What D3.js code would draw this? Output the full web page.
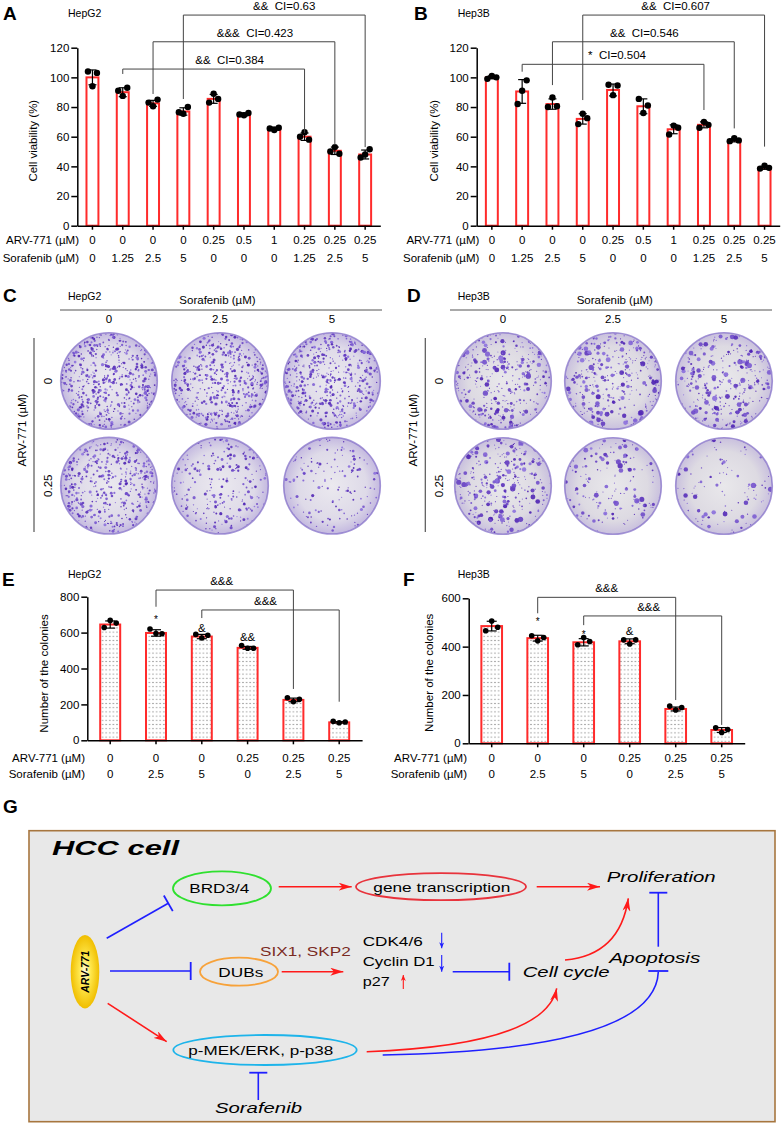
<!DOCTYPE html>
<html>
<head>
<meta charset="utf-8">
<script src="https://cdn.jsdelivr.net/npm/d3@7"></script>
<style>
  body { margin: 0; background: #fff; }
  svg { display: block; font-family: "Liberation Sans", Arial, sans-serif; }
  text { white-space: pre; }
</style>
</head>
<body>
<script>
"use strict";

// ---------- data ----------
const arvAB = ["0", "0", "0", "0", "0.25", "0.5", "1", "0.25", "0.25", "0.25"];
const sorAB = ["0", "1.25", "2.5", "5", "0", "0", "0", "1.25", "2.5", "5"];
const viabTicks = [0, 20, 40, 60, 80, 100, 120];

const viabHepG2 = [100, 90, 82.5, 77, 85.5, 75, 65.5, 60, 50.5, 48];
const viabHepG2Err = [5, 3, 2, 2.5, 3, 1, 1, 2.5, 2.5, 3];
const viabHepG2Dots = [[104, 94, 103], [91, 87.5, 93], [83, 80.5, 85], [76.5, 75.5, 80], [83, 89, 85.5],
  [75, 74.5, 76], [65.5, 64.5, 66], [60, 63, 58], [50, 53, 48.5], [46, 48, 51.5]];

const viabHep3B = [100, 90.5, 82, 72, 91.5, 80.5, 65, 68, 57.5, 39];
const viabHep3BErr = [1, 8, 3.5, 3.5, 4, 5, 3, 2, 1, 1];
const viabHep3BDots = [[99, 101, 100], [82, 91, 98], [80, 86.5, 80.5], [68.5, 75.5, 72.5], [95, 88, 94.5],
  [85.5, 76, 81], [61.5, 67.5, 66], [66, 70, 68], [57, 59, 57.5], [38.5, 40.5, 39]];

const ciHepG2 = [
  { from: 1, to: 7, y: 105.6, left: 102.3, right: 62.5, label: "&&  CI=0.384", dx: 16 },
  { from: 2, to: 8, y: 124, left: 88.8, right: 54.4, label: "&&&  CI=0.423", dx: 11 },
  { from: 3, to: 9, y: 142, left: 85.4, right: 53, label: "&&  CI=0.63", dx: 10 }
];
const ciHep3B = [
  { from: 1, to: 7, y: 108.8, left: 103.8, right: 78, label: "*  CI=0.504", dx: 4 },
  { from: 2, to: 8, y: 124, left: 94.8, right: 65.6, label: "&&  CI=0.546", dx: 1 },
  { from: 3, to: 9, y: 142, left: 84.7, right: 53.3, label: "&&  CI=0.607", dx: 2 }
];

const arvEF = ["0", "0", "0", "0.25", "0.25", "0.25"];
const sorEF = ["0", "2.5", "5", "0", "2.5", "5"];

const colHepG2 = [645, 598, 578, 515, 225, 100];
const colHepG2Err = [20, 18, 12, 8, 10, 4];
const colHepG2Dots = [[628, 668, 653], [620, 595, 594], [590, 570, 585], [528, 513, 513], [237, 215, 228], [106, 98, 102]];
const colHepG2Ticks = [0, 200, 400, 600, 800];

const colHep3B = [485, 435, 418, 422, 142, 55];
const colHep3BErr = [20, 12, 15, 10, 8, 10];
const colHep3BDots = [[466, 506, 480], [445, 424, 438], [408, 438, 421], [428, 411, 428], [154, 138, 148], [64, 45, 57]];
const colHep3BTicks = [0, 200, 400, 600];

const sigHepG2 = [{ i: 1, text: "*", y: 653 }, { i: 2, text: "&", y: 605 }, { i: 3, text: "&&", y: 555 }];
const sigHep3B = [{ i: 1, text: "*", y: 491 }, { i: 2, text: "*", y: 436 }, { i: 3, text: "&", y: 449 }];
const brHepG2 = [
  { from: 1, to: 4, y: 837, left: 744, right: 286, label: "&&&", dx: -3 },
  { from: 2, to: 5, y: 726, left: 681, right: 215, label: "&&&", dx: -5 }
];
const brHep3B = [
  { from: 1, to: 4, y: 604, left: 538, right: 179, label: "&&&", dx: 0 },
  { from: 2, to: 5, y: 527, left: 489, right: 76, label: "&&&", dx: -4 }
];

const plateCols = ["0", "2.5", "5"];
const plateRows = ["0", "0.25"];

// ---------- page ----------
const svg = d3.select("body").append("svg").attr("width", 782).attr("height", 1124);
const defs = svg.append("defs");

let dotPat = defs.append("pattern").attr("id", "dotFill").attr("patternUnits", "userSpaceOnUse")
  .attr("width", 3.6).attr("height", 4.2);
dotPat.append("rect").attr("width", 3.6).attr("height", 4.2).attr("fill", "#fff");
dotPat.append("circle").attr("cx", 1.8).attr("cy", 2.1).attr("r", 0.55).attr("fill", "#666");

function gradient(id, stops) {
  let gr = defs.append("radialGradient").attr("id", id);
  stops.forEach(s => gr.append("stop").attr("offset", s[0]).attr("stop-color", s[1]));
}
gradient("plateA", [["0%", "#ebe9ef"], ["72%", "#dedae8"], ["100%", "#c4b9e0"]]);
gradient("plateB", [["0%", "#e9e8eb"], ["72%", "#dddae2"], ["100%", "#c9c0de"]]);
gradient("arvGrad", [["0%", "#fffbe6"], ["40%", "#ffe84d"], ["100%", "#f0be00"]]);

function letter(t, x, y) {
  svg.append("text").attr("x", x).attr("y", y).attr("font-size", 19).attr("font-weight", "bold").text(t);
}
function plainText(t, x, y, size, anchor) {
  return svg.append("text").attr("x", x).attr("y", y).attr("font-size", size || 11.5)
    .attr("text-anchor", anchor || "start").text(t);
}
function vText(t, x, y, size) {
  return svg.append("text").attr("transform", `translate(${x},${y}) rotate(-90)`)
    .attr("text-anchor", "middle").attr("dy", "0.35em").attr("font-size", size || 11.5).text(t);
}

function barPanel(o) {
  let g = svg.append("g");
  let n = o.values.length;
  let x = d3.scaleBand().domain(d3.range(n)).range([o.x0, o.x1]).paddingInner(o.pad).paddingOuter(o.pad / 2);
  let y = d3.scaleLinear().domain([0, o.max]).range([o.y0, o.y1]);
  let cx = i => x(i) + x.bandwidth() / 2;

  g.selectAll("rect.bar").data(o.values).join("rect").attr("class", "bar")
    .attr("x", (d, i) => x(i) + 1).attr("width", x.bandwidth() - 2)
    .attr("y", d => y(d)).attr("height", d => y(0) - y(d))
    .attr("fill", o.fill).attr("stroke", "#ff2b2b").attr("stroke-width", 2);

  let eb = g.append("g").attr("stroke", "#000").attr("stroke-width", 1.2);
  o.values.forEach((v, i) => {
    let e = o.err[i];
    eb.append("line").attr("x1", cx(i)).attr("x2", cx(i)).attr("y1", y(v - e)).attr("y2", y(v + e));
    [v - e, v + e].forEach(t => eb.append("line")
      .attr("x1", cx(i) - o.cap).attr("x2", cx(i) + o.cap).attr("y1", y(t)).attr("y2", y(t)));
  });

  let pts = o.dots.flatMap((arr, i) => arr.map((v, k) => ({ i, v, k })));
  g.selectAll("circle.dot").data(pts).join("circle").attr("class", "dot")
    .attr("cx", d => cx(d.i) + o.jitter[d.k]).attr("cy", d => y(d.v)).attr("r", o.r).attr("fill", "#000");

  let ya = g.append("g").attr("transform", `translate(${o.x0},0)`)
    .call(d3.axisLeft(y).tickValues(o.ticks).tickSize(6).tickPadding(2).tickSizeOuter(0));
  let xa = g.append("g").attr("transform", `translate(0,${o.y0})`)
    .call(d3.axisBottom(x).tickSize(4).tickSizeOuter(0).tickFormat(""));
  [ya, xa].forEach(a => {
    a.attr("font-family", null).attr("font-size", 11.5);
    a.selectAll("path, line").attr("stroke-width", 1.5);
    a.selectAll("text").attr("fill", "#000");
  });

  // treatment rows under the axis
  [["ARV-771 (µM)", o.arv], ["Sorafenib (µM)", o.sor]].forEach((row, r) => {
    g.append("text").attr("x", o.rowX).attr("y", o.rowY[r]).attr("text-anchor", "end")
      .attr("font-size", 11.5).text(row[0]);
    g.selectAll("text.row" + r).data(row[1]).join("text").attr("class", "row" + r)
      .attr("x", (d, i) => cx(i)).attr("y", o.rowY[r]).attr("text-anchor", "middle")
      .attr("font-size", 11.5).text(d => d);
  });

  o.brackets.forEach(b => {
    let xl = cx(b.from), xr = cx(b.to), yb = y(b.y);
    g.append("path").attr("d", `M${xl},${y(b.left)}V${yb}H${xr}V${y(b.right)}`)
      .attr("fill", "none").attr("stroke", "#444").attr("stroke-width", 1);
    g.append("text").attr("x", (xl + xr) / 2 + b.dx).attr("y", yb - 5).attr("text-anchor", "middle")
      .attr("font-size", 11.5).text(b.label);
  });

  if (o.marks) {
    g.selectAll("text.mark").data(o.marks).join("text").attr("class", "mark")
      .attr("x", d => cx(d.i)).attr("y", d => y(d.y)).attr("text-anchor", "middle").attr("fill", "#000")
      .attr("font-size", d => d.text == "*" ? 10 : 11.5).text(d => d.text);
  }

  vText(o.yTitle, o.yTitleX, (o.y0 + o.y1) / 2 + o.yTitleDy, 11.5);
}

// ---------- A / B ----------
letter("A", 3, 20);
plainText("HepG2", 68, 16.7, 10.5);
barPanel({
  values: viabHepG2, err: viabHepG2Err, dots: viabHepG2Dots, ticks: viabTicks, max: 120,
  x0: 77.3, x1: 380.3, y0: 225.7, y1: 47.7, pad: 0.54, cap: 4, r: 3.2, jitter: [-4.5, 0, 4.5],
  fill: "#fff", arv: arvAB, sor: sorAB, rowX: 79, rowY: [244, 261.5], brackets: ciHepG2,
  yTitle: "Cell viability (%)", yTitleX: 33, yTitleDy: 4
});

letter("B", 414, 20);
plainText("Hep3B", 457.7, 16.7, 10.5);
barPanel({
  values: viabHep3B, err: viabHep3BErr, dots: viabHep3BDots, ticks: viabTicks, max: 120,
  x0: 476.7, x1: 779.7, y0: 225.7, y1: 47.7, pad: 0.54, cap: 4, r: 3.2, jitter: [-4.5, 0, 4.5],
  fill: "#fff", arv: arvAB, sor: sorAB, rowX: 479.3, rowY: [244, 261.5], brackets: ciHep3B,
  yTitle: "Cell viability (%)", yTitleX: 434.3, yTitleDy: 4
});

// ---------- C / D colony plates (texture drawn from a fixed seed) ----------
function plate(cx, cy, R, count, seed, big) {
  let rnd = d3.randomLcg(seed);
  let id = "clip" + seed;
  defs.append("clipPath").attr("id", id).append("circle").attr("cx", cx).attr("cy", cy).attr("r", R - 0.8);
  let g = svg.append("g");
  g.append("circle").attr("cx", cx).attr("cy", cy).attr("r", R)
    .attr("fill", big ? "url(#plateB)" : "url(#plateA)")
    .attr("stroke", "#7d68c6").attr("stroke-width", 1.6).attr("stroke-opacity", 0.7);
  let pts = d3.range(count).map(() => {
    let a = rnd() * 2 * Math.PI;
    let rr = R * Math.sqrt(rnd());
    let s = big ? 0.55 + Math.pow(rnd(), 4) * 2.1 : 0.6 + Math.pow(rnd(), 2) * 1.0;
    return { x: cx + rr * Math.cos(a), y: cy + rr * Math.sin(a), s: s, c: rnd() };
  });
  let col = d3.interpolateRgb("#8f74df", "#4a1db0");
  g.append("g").attr("clip-path", `url(#${id})`)
    .selectAll("circle").data(pts).join("circle")
    .attr("cx", d => d.x).attr("cy", d => d.y).attr("r", d => d.s)
    .attr("fill", d => col(d.c)).attr("fill-opacity", 0.9);
}

function platePanel(o) {
  letter(o.letter, o.letterX, 302);
  plainText(o.cell, o.cellX, 300, 10.5);
  plainText("Sorafenib (µM)", o.sorX, 304, 11.5, "middle");
  svg.append("line").attr("x1", o.lineX[0]).attr("x2", o.lineX[1]).attr("y1", 310).attr("y2", 310)
    .attr("stroke", "#555").attr("stroke-width", 1.2);
  svg.append("line").attr("x1", o.vX).attr("x2", o.vX).attr("y1", 338).attr("y2", 532)
    .attr("stroke", "#555").attr("stroke-width", 1.2);
  vText("ARV-771 (µM)", o.vX - 12, 430, 11.5);
  plateCols.forEach((c, j) => plainText(c, o.xs[j], 323.3, 11.5, "middle"));
  plateRows.forEach((r, k) => {
    vText(r, o.vX + 14, o.ys[k], 11.5);
    plateCols.forEach((c, j) => {
      let v = o.counts[k * 3 + j];
      plate(o.xs[j], o.ys[k], 48.3, Math.round(v * o.density) + 70, o.seed + k * 3 + j, o.big);
    });
  });
}

platePanel({ letter: "C", letterX: 3, cell: "HepG2", cellX: 68, sorX: 217.5, lineX: [60, 382], vX: 34,
  xs: [109, 220, 332], ys: [381, 485.7], counts: colHepG2, density: 0.7, seed: 11, big: false });
platePanel({ letter: "D", letterX: 407, cell: "Hep3B", cellX: 457.7, sorX: 614.8, lineX: [450, 772], vX: 425.3,
  xs: [503, 613, 724], ys: [381, 486], counts: colHep3B, density: 0.6, seed: 31, big: true });

// ---------- E / F ----------
letter("E", 2, 586);
plainText("HepG2", 68, 578, 10.5);
barPanel({
  values: colHepG2, err: colHepG2Err, dots: colHepG2Dots, ticks: colHepG2Ticks, max: 800,
  x0: 87.3, x1: 362.1, y0: 740.3, y1: 596.7, pad: 0.52, cap: 5, r: 2.8, jitter: [-6, 0, 6],
  fill: "url(#dotFill)", arv: arvEF, sor: sorEF, rowX: 85, rowY: [762, 778], brackets: brHepG2,
  marks: sigHepG2, yTitle: "Number of the colonies", yTitleX: 44, yTitleDy: 5
});

letter("F", 403, 586);
plainText("Hep3B", 457.7, 578, 10.5);
barPanel({
  values: colHep3B, err: colHep3BErr, dots: colHep3BDots, ticks: colHep3BTicks, max: 600,
  x0: 468.7, x1: 744.7, y0: 743.3, y1: 598.3, pad: 0.507, cap: 5, r: 2.8, jitter: [-6, 0, 6],
  fill: "url(#dotFill)", arv: arvEF, sor: sorEF, rowX: 467, rowY: [762, 778], brackets: brHep3B,
  marks: sigHep3B, yTitle: "Number of the colonies", yTitleX: 429, yTitleDy: 2
});

// ---------- G schematic ----------
letter("G", 3, 813);
const RED = "#ff1a1a", BLUE = "#1f1fff";

function marker(id, color, len, wid) {
  defs.append("marker").attr("id", id).attr("markerUnits", "userSpaceOnUse")
    .attr("markerWidth", len).attr("markerHeight", wid).attr("refX", len).attr("refY", wid / 2)
    .attr("orient", "auto")
    .append("path").attr("d", `M0,0L${len},${wid / 2}L0,${wid}L${len * 0.28},${wid / 2}Z`).attr("fill", color);
}
marker("arrowRed", RED, 13, 8);
marker("arrowRedS", RED, 6, 5);
marker("arrowBlueS", BLUE, 6, 5);

let gG = svg.append("g");
gG.append("rect").attr("x", 29).attr("y", 830.7).attr("width", 746).attr("height", 291)
  .attr("fill", "#e8e8e8").attr("stroke", "#a7763f").attr("stroke-width", 1.6);

function gText(t, x, y, size, len, style) {
  let s = gG.append("text").attr("x", x).attr("y", y).attr("font-size", size)
    .attr("textLength", len).attr("lengthAdjust", "spacingAndGlyphs").text(t);
  if (style && style.italic) s.attr("font-style", "italic");
  if (style && style.bold) s.attr("font-weight", "bold");
  if (style && style.fill) s.attr("fill", style.fill);
  return s;
}
function ellipse(cx, cy, rx, ry, color) {
  gG.append("ellipse").attr("cx", cx).attr("cy", cy).attr("rx", rx).attr("ry", ry)
    .attr("fill", "none").attr("stroke", color).attr("stroke-width", 1.8);
}
function arrow(x1, y1, x2, y2, color, m, w) {
  gG.append("line").attr("x1", x1).attr("y1", y1).attr("x2", x2).attr("y2", y2)
    .attr("stroke", color).attr("stroke-width", w || 1.6).attr("marker-end", `url(#${m})`);
}
function tbar(x, y, dx, dy, color, half) {
  let l = Math.hypot(dx, dy), px = -dy / l * half, py = dx / l * half;
  gG.append("line").attr("x1", x + px).attr("y1", y + py).attr("x2", x - px).attr("y2", y - py)
    .attr("stroke", color).attr("stroke-width", 1.8);
}
function inhibit(x1, y1, x2, y2, color) {
  gG.append("line").attr("x1", x1).attr("y1", y1).attr("x2", x2).attr("y2", y2)
    .attr("stroke", color).attr("stroke-width", 1.6);
  tbar(x2, y2, x2 - x1, y2 - y1, color, 9);
}
function curve(d, color, m) {
  let p = gG.append("path").attr("d", d).attr("fill", "none").attr("stroke", color).attr("stroke-width", 1.6);
  if (m) p.attr("marker-end", `url(#${m})`);
}

gText("HCC cell", 52, 855, 21, 127, { italic: true, bold: true });

ellipse(222, 888.3, 49, 17, "#2fe02f");
gText("BRD3/4", 189.3, 893.3, 13, 60);
ellipse(441, 886.7, 85, 13.5, "#e8333c");
gText("gene transcription", 373.3, 891.5, 13, 137);
gText("Proliferation", 606.7, 881.7, 15, 109, { italic: true });

gG.append("ellipse").attr("cx", 85).attr("cy", 971.7).attr("rx", 14.3).attr("ry", 36.7).attr("fill", "url(#arvGrad)");
gG.append("text").attr("transform", "translate(85,971.7) rotate(-90)").attr("text-anchor", "middle")
  .attr("dy", "0.35em").attr("font-size", 11).attr("font-weight", "bold").attr("font-style", "italic")
  .attr("textLength", 42).attr("lengthAdjust", "spacingAndGlyphs").text("ARV-771");

ellipse(239, 971.7, 39, 14, "#f7a23a");
gText("DUBs", 218.3, 976.5, 13, 45);
gText("SIX1, SKP2", 260, 955.7, 13, 90.7, { fill: "#7a2a22" });
gText("CDK4/6", 362.7, 945.7, 13, 60);
gText("Cyclin D1", 362.7, 965.7, 13, 72);
gText("p27", 362.7, 985.7, 13, 27);
gText("Cell cycle", 522.7, 976.7, 15, 87, { italic: true });
gText("Apoptosis", 609.3, 963.3, 15, 91, { italic: true });

ellipse(265, 1050, 91.7, 15, "#1db4ea");
gText("p-MEK/ERK, p-p38", 188.3, 1055, 13, 145);
gText("Sorafenib", 215, 1113.3, 15, 87, { italic: true });

arrow(278.7, 886.7, 351.7, 886.7, RED, "arrowRed");
arrow(536.7, 886.7, 600, 886.7, RED, "arrowRed");
inhibit(106.7, 938.3, 168.3, 903.3, BLUE);
inhibit(110, 971, 190.7, 971, BLUE);
arrow(281.7, 971.7, 343.3, 971.7, RED, "arrowRed");
inhibit(452.7, 971.7, 509.3, 971.7, BLUE);
arrow(107.7, 1003.3, 166.7, 1041.7, RED, "arrowRed");
inhibit(258.3, 1100, 258.3, 1072.7, BLUE);
inhibit(658.3, 946.7, 658.3, 892.7, BLUE);

arrow(441.7, 932.7, 441.7, 948.3, BLUE, "arrowBlueS", 1.1);
arrow(441.7, 955, 441.7, 971.7, BLUE, "arrowBlueS", 1.1);
arrow(403.3, 989, 403.3, 975, RED, "arrowRedS", 1.1);

curve("M565,960 Q620,955 628.3,898.3", RED, "arrowRed");
curve("M366.7,1051.7 Q545,1045 556.7,988.3", RED, "arrowRed");
curve("M382.7,1055 Q655,1050 658.3,972", BLUE);
tbar(658.3, 971, 0, -1, BLUE, 10);
</script>
</body>
</html>
